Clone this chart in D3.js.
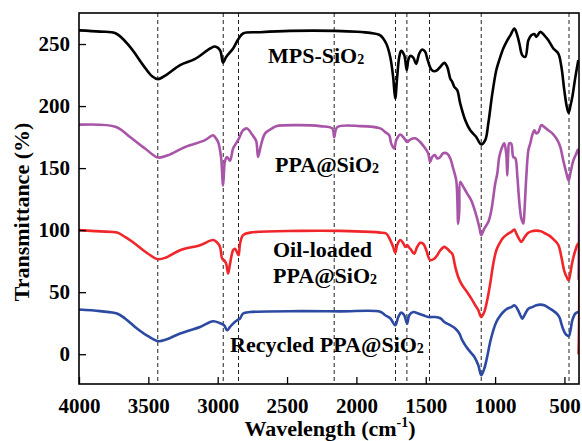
<meta charset="utf-8">
<head>
<style>
  body { margin: 0; background: #fff; }
  text { font-family: "Liberation Serif", "Times New Roman", serif; font-weight: bold; }
</style>
</head>
<body>
<div id="chartId"></div>
</body>
<script src="https://cdn.jsdelivr.net/npm/d3@7"></script>
<script>

// data (wavenumber, transmittance)
var mpsData = [[4000,261],[3848,260],[3733,258.5],[3632,247.7],[3538,233],[3473,224],[3430,221.7],[3372,225],[3271,233],[3163,238],[3055,246.4],[3019,248],[2983,245],[2961,235],[2939,239.6],[2889,246.4],[2853,253.6],[2817,258.5],[2694,259.5],[2478,260.6],[2160,260.6],[1900,259],[1828,257],[1785,250.4],[1756,239.6],[1735,223.5],[1720,206],[1706,223.5],[1691,239.6],[1677,244.5],[1655,241],[1637,229],[1626,237],[1612,240.4],[1590,239],[1569,234],[1547,242.3],[1525,245.6],[1504,243.7],[1489,238.3],[1460,229.5],[1439,228],[1417,229],[1395,231.6],[1366,234.8],[1345,231.6],[1323,222],[1309,219.5],[1294,215.5],[1273,212.8],[1251,202],[1215,188.6],[1179,180.5],[1136,175],[1100,169],[1071,172.5],[1049,186],[1020,210],[991,229],[970,237],[941,246.4],[912,253],[890,257],[861,262.5],[840,257],[825,250.4],[804,241],[782,239.6],[760,253],[739,257],[717,258],[703,255.7],[674,259.8],[645,257],[616,253],[580,246.4],[544,242.3],[522,231.6],[501,212.8],[484,200],[470,194.5],[455,201],[443,207.4],[421,223.5],[400,237]];

var ppaData = [[4000,185],[3733,183.2],[3632,175],[3524,165.8],[3430,158.5],[3358,160.4],[3235,167],[3091,172.5],[3033,176.5],[3019,175],[2997,171],[2976,159],[2961,136],[2947,156],[2932,159],[2911,156],[2889,165.8],[2853,172.5],[2817,180.5],[2788,182],[2752,177],[2723,172],[2709,159],[2687,169],[2658,178],[2608,182],[2579,183.8],[2405,184.6],[2261,183.8],[2174,182],[2160,175],[2138,183],[1972,183.8],[1828,182],[1792,179],[1763,176.5],[1749,169.8],[1727,165.8],[1713,172.5],[1684,177],[1655,174],[1634,171],[1612,173],[1576,174],[1540,171],[1511,167],[1482,161.8],[1468,155],[1453,159],[1432,160.4],[1417,157.7],[1395,159],[1374,162],[1345,161.6],[1323,157.7],[1302,149.7],[1280,140],[1266,105],[1258,116],[1251,139],[1230,135],[1201,129.5],[1172,124],[1143,114.7],[1114,102.6],[1100,96],[1078,101.3],[1049,106.6],[1027,116],[999,137.6],[984,145.6],[970,159],[949,167],[934,170],[920,161.8],[912,144],[905,163],[898,170],[883,169.5],[869,159],[854,158],[840,144],[825,122],[811,109.4],[796,105.3],[789,114],[775,143],[760,164.4],[746,170],[732,176.5],[717,180.5],[703,178],[688,179],[667,184.6],[645,183],[616,180.5],[587,178],[551,172.5],[530,167],[508,156],[486,146],[470,140],[458,145.5],[436,156],[414,161.8],[403,165],[398,60]];

var oilData = [[4000,100],[3848,99],[3726,98],[3668,94.5],[3596,89],[3502,81],[3430,76.6],[3372,78],[3271,83.8],[3127,87.9],[3033,92],[3004,90],[2983,86.5],[2968,77],[2954,75.8],[2939,73],[2925,65],[2911,73],[2889,83.8],[2875,85],[2860,82],[2849,79.8],[2839,89],[2817,96],[2766,98],[2405,99.4],[2117,99.4],[1900,98.6],[1828,98],[1785,97.3],[1756,92],[1735,86.5],[1720,81.7],[1706,88],[1684,92],[1662,89.4],[1648,86.5],[1634,88],[1619,85.8],[1605,84],[1583,81],[1562,86.5],[1540,89.8],[1518,89],[1496,83.8],[1468,75.8],[1439,77],[1417,79.8],[1395,83.8],[1366,86.5],[1345,85],[1323,82.5],[1309,81],[1287,70.4],[1266,62.3],[1237,55.6],[1201,50],[1172,45],[1143,39.5],[1121,35.5],[1100,30],[1078,34],[1057,43.5],[1035,57],[1013,73],[991,83.8],[970,89],[941,94],[912,96.7],[883,98.6],[861,100.5],[847,97.3],[832,94],[811,90.5],[789,94],[767,97.3],[739,99],[703,99.6],[667,99],[638,97.3],[602,95],[573,92],[544,88],[522,78.4],[501,67],[483,62],[470,59.6],[458,65],[443,74.4],[421,83.8],[403,89],[398,0]];

var recData = [[4000,36],[3848,34.7],[3726,32.8],[3668,28.8],[3596,22],[3502,14.5],[3430,10.5],[3372,11.8],[3271,16.7],[3127,22],[3033,26.6],[2983,25],[2954,23.4],[2932,19.3],[2911,22],[2889,24.7],[2860,27.4],[2839,28.8],[2817,32.8],[2766,34],[2405,34.7],[2117,34.5],[1828,34.3],[1792,31.4],[1756,29],[1720,23.4],[1698,30],[1677,33.5],[1655,31.4],[1634,24.7],[1619,31.4],[1590,34],[1554,32.8],[1518,31.4],[1482,30],[1432,30],[1395,29],[1366,26],[1323,23.4],[1287,20.7],[1258,16.7],[1237,11.3],[1208,6],[1179,1.9],[1150,-2],[1121,-8.9],[1100,-17],[1078,-11.6],[1057,-2],[1035,10],[1013,19.3],[991,26],[970,30],[941,34],[912,36.7],[883,38],[861,39.5],[840,36.7],[818,31.4],[804,28.7],[782,32.8],[760,36.7],[732,38],[703,39.5],[674,40],[645,39.5],[616,37.6],[587,35.5],[558,33],[537,30],[519,23.4],[501,18],[485,15.5],[469,14.5],[455,20],[443,27.4],[421,32.8],[400,34]];

var peaks = [3432, 2960, 2850, 2160, 1718, 1636, 1473, 1100, 467];
var xTicks = [4000, 3500, 3000, 2500, 2000, 1500, 1000, 500];
var yTicks = [0, 50, 100, 150, 200, 250];

var series = [
	{ name: 'mps', data: mpsData, color: '#000000' },
	{ name: 'ppa', data: ppaData, color: '#a855a8' },
	{ name: 'oil', data: oilData, color: '#f0262a' },
	{ name: 'rec', data: recData, color: '#2c4aa2' }
];

var width = 582, height = 441;
var margin = { top: 13, right: 3, bottom: 57, left: 79 };

var svg = d3.select('#chartId').append('svg')
	.attr('width', width)
	.attr('height', height);

var x = d3.scaleLinear().domain([4000, 395]).range([margin.left, width - margin.right]);
var y = d3.scaleLinear().domain([-24, 275]).range([height - margin.bottom, margin.top]);

svg.append('clipPath').attr('id', 'plotClip')
	.append('rect')
	.attr('x', margin.left).attr('y', margin.top)
	.attr('width', width - margin.right - margin.left)
	.attr('height', height - margin.bottom - margin.top);

// dashed guide lines
svg.selectAll('.peak')
	.data(peaks)
	.enter()
	.append('line')
	.attr('class', 'peak')
	.attr('x1', function(d) { return x(d); })
	.attr('x2', function(d) { return x(d); })
	.attr('y1', margin.top)
	.attr('y2', height - margin.bottom)
	.attr('stroke', '#222')
	.attr('stroke-width', 1)
	.attr('stroke-dasharray', '4,3');

var line = d3.line()
	.curve(d3.curveCatmullRom.alpha(0.5))
	.x(function(d) { return x(d[0]); })
	.y(function(d) { return y(d[1]); });

svg.append('g').attr('clip-path', 'url(#plotClip)')
	.selectAll('path')
	.data(series)
	.enter()
	.append('path')
	.attr('d', function(d) { return line(d.data); })
	.attr('fill', 'none')
	.attr('stroke', function(d) { return d.color; })
	.attr('stroke-width', 2.6)
	.attr('stroke-linejoin', 'round');

// axes
var xAxis = d3.axisBottom(x).tickValues(xTicks).tickFormat(d3.format('d'))
	.tickSize(-7).tickSizeOuter(0).tickPadding(14);
var yAxis = d3.axisLeft(y).tickValues(yTicks).tickFormat(d3.format('d'))
	.tickSize(-7).tickSizeOuter(0).tickPadding(9);

var gx = svg.append('g')
	.attr('transform', 'translate(0,' + (height - margin.bottom) + ')')
	.call(xAxis);
var gy = svg.append('g')
	.attr('transform', 'translate(' + margin.left + ',0)')
	.call(yAxis);

[gx, gy].forEach(function(g) {
	g.select('.domain').remove();
	g.selectAll('.tick line').attr('stroke', '#000').attr('stroke-width', 1.3);
	g.selectAll('.tick text')
		.attr('fill', '#000')
		.style('font-family', '"Liberation Serif", "Times New Roman", serif')
		.style('font-weight', 'bold')
		.style('font-size', '21px');
});

svg.append('rect')
	.attr('x', margin.left).attr('y', margin.top)
	.attr('width', width - margin.right - margin.left)
	.attr('height', height - margin.bottom - margin.top)
	.attr('fill', 'none')
	.attr('stroke', '#000')
	.attr('stroke-width', 1.6);

// axis titles
var xt = svg.append('text')
	.attr('x', 330).attr('y', 436)
	.attr('text-anchor', 'middle')
	.style('font-size', '22px');
xt.append('tspan').text('Wavelength (cm');
xt.append('tspan').attr('dy', -9).style('font-size', '14px').text('-1');
xt.append('tspan').attr('dy', 9).text(')');

svg.append('text')
	.attr('transform', 'translate(29,212) rotate(-90)')
	.attr('text-anchor', 'middle')
	.style('font-size', '22px')
	.text('Transmittance (%)');

// curve labels
function label(xp, yp, main) {
	var t = svg.append('text').attr('x', xp).attr('y', yp).style('font-size', '22px');
	t.append('tspan').text(main);
	t.append('tspan').attr('dy', 1).style('font-size', '14px').text('2');
	return t;
}
label(268, 63, 'MPS-SiO');
label(275, 172, 'PPA@SiO');
svg.append('text').attr('x', 273).attr('y', 257).style('font-size', '22px').text('Oil-loaded');
label(273, 283, 'PPA@SiO');
label(230, 352, 'Recycled PPA@SiO');

</script>
